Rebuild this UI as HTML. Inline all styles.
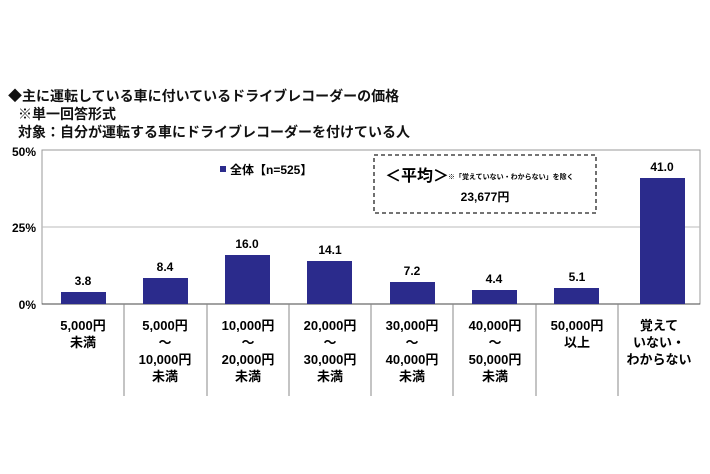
<!DOCTYPE html>
<html><head><meta charset="utf-8"><style>
body{margin:0;background:#fff;width:710px;height:474px;overflow:hidden;font-family:"Liberation Sans","Noto Sans CJK JP",sans-serif;color:#111}
.t{position:absolute;font-weight:bold;font-size:14px;white-space:nowrap}
</style></head><body>
<div class="t" style="left:8px;top:86px">◆主に運転している車に付いているドライブレコーダーの価格</div>
<div class="t" style="left:18px;top:104px">※単一回答形式</div>
<div class="t" style="left:18px;top:122px">対象：自分が運転する車にドライブレコーダーを付けている人</div>
<svg width="710" height="474" style="position:absolute;left:0;top:0" font-family="Liberation Sans, Noto Sans CJK JP, sans-serif" font-weight="bold">
<rect x="42" y="150" width="658" height="154" fill="none" stroke="#999" stroke-width="1"/>
<line x1="42" y1="227" x2="700" y2="227" stroke="#bbb"/>
<line x1="42" y1="304" x2="700" y2="304" stroke="#444"/>
<g font-size="12" text-anchor="end"><text x="36" y="156">50%</text><text x="36" y="232">25%</text><text x="36" y="309">0%</text></g>
<g stroke="#888">
<line x1="124" y1="304" x2="124" y2="396"/><line x1="207" y1="304" x2="207" y2="396"/><line x1="289" y1="304" x2="289" y2="396"/><line x1="371" y1="304" x2="371" y2="396"/><line x1="453" y1="304" x2="453" y2="396"/><line x1="536" y1="304" x2="536" y2="396"/><line x1="618" y1="304" x2="618" y2="396"/>
</g>
<g fill="#2b2b8c">
<rect x="61" y="292" width="45" height="12"/>
<rect x="143" y="278" width="45" height="26"/>
<rect x="225" y="255" width="45" height="49"/>
<rect x="307" y="261" width="45" height="43"/>
<rect x="390" y="282" width="45" height="22"/>
<rect x="472" y="290" width="45" height="14"/>
<rect x="554" y="288" width="45" height="16"/>
<rect x="640" y="178" width="45" height="126"/>
</g>
<g font-size="12" text-anchor="middle">
<text x="83" y="285">3.8</text><text x="165" y="271">8.4</text><text x="247" y="248">16.0</text><text x="330" y="254">14.1</text><text x="412" y="275">7.2</text><text x="494" y="283">4.4</text><text x="577" y="281">5.1</text><text x="662" y="171">41.0</text>
</g>
<rect x="220" y="166" width="6" height="6" fill="#2b2b8c"/>
<text x="230" y="174" font-size="12">全体【n=525】</text>
<rect x="374" y="155" width="222" height="58" fill="none" stroke="#222" stroke-dasharray="4,3" stroke-width="1.3"/>
<text x="385" y="181" font-size="16">＜平均＞</text>
<text x="448" y="179" font-size="7">※「覚えていない・わからない」を除く</text>
<text x="485" y="201" font-size="12" text-anchor="middle">23,677円</text>
<g font-size="13" text-anchor="middle">
<text x="83" y="330">5,000円</text><text x="83" y="347">未満</text>
<text x="165" y="330">5,000円</text><text x="165" y="347">～</text><text x="165" y="364">10,000円</text><text x="165" y="381">未満</text>
<text x="248" y="330">10,000円</text><text x="248" y="347">～</text><text x="248" y="364">20,000円</text><text x="248" y="381">未満</text>
<text x="330" y="330">20,000円</text><text x="330" y="347">～</text><text x="330" y="364">30,000円</text><text x="330" y="381">未満</text>
<text x="412" y="330">30,000円</text><text x="412" y="347">～</text><text x="412" y="364">40,000円</text><text x="412" y="381">未満</text>
<text x="495" y="330">40,000円</text><text x="495" y="347">～</text><text x="495" y="364">50,000円</text><text x="495" y="381">未満</text>
<text x="577" y="330">50,000円</text><text x="577" y="347">以上</text>
<text x="659" y="330">覚えて</text><text x="659" y="347">いない・</text><text x="659" y="364">わからない</text>
</g>
</svg>
</body></html>
